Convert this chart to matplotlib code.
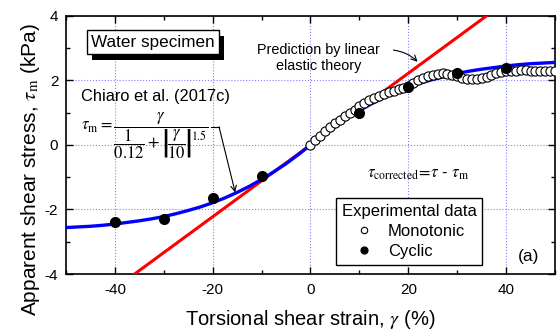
import matplotlib
matplotlib.use("Agg")
import matplotlib.pyplot as plt
from matplotlib import patheffects
from matplotlib.lines import Line2D

plt.rcParams['font.family'] = ['Liberation Sans', 'DejaVu Sans']
plt.rcParams['mathtext.fontset'] = 'stix'
plt.rcParams['axes.unicode_minus'] = False

# model curve (Chiaro et al. 2017c)
model_x = [-50, -47.5, -45, -42.5, -40, -37.5, -35, -32.5, -30, -27.5, -25, -22.5, -20,
           -17.5, -15, -12.5, -10, -7.5, -5, -2.5, 0, 2.5, 5, 7.5, 10, 12.5, 15, 17.5,
           20, 22.5, 25, 27.5, 30, 32.5, 35, 37.5, 40, 42.5, 45, 47.5, 50]
model_y = [-2.56, -2.54, -2.52, -2.49, -2.45, -2.40, -2.35, -2.29, -2.22, -2.13, -2.03,
           -1.92, -1.79, -1.64, -1.47, -1.28, -1.07, -0.83, -0.58, -0.30, 0.0, 0.30,
           0.58, 0.83, 1.07, 1.28, 1.47, 1.64, 1.79, 1.92, 2.03, 2.13, 2.22, 2.29, 2.35,
           2.40, 2.45, 2.49, 2.52, 2.54, 2.56]

# linear elastic prediction
elastic_x = [-50, 50]
elastic_y = [-5.56, 5.56]

# monotonic test
mono_x = list(range(0, 51))
mono_y = [0.0, 0.14, 0.29, 0.42, 0.55, 0.67, 0.79, 0.90, 1.00, 1.10, 1.20, 1.30, 1.38,
          1.46, 1.52, 1.58, 1.63, 1.68, 1.73, 1.78, 1.84, 1.92, 2.00, 2.08, 2.14, 2.18,
          2.21, 2.22, 2.21, 2.18, 2.14, 2.09, 2.06, 2.05, 2.05, 2.07, 2.11, 2.17, 2.23,
          2.27, 2.29, 2.30, 2.30, 2.31, 2.31, 2.30, 2.30, 2.30, 2.29, 2.29, 2.30]

# cyclic test
cyc_x = [-40, -30, -20, -10, 10, 20, 30, 40]
cyc_y = [-2.40, -2.31, -1.65, -0.96, 1.00, 1.81, 2.24, 2.38]

fig = plt.figure(figsize=(5.58, 3.31), dpi=100)
ax = fig.add_axes([0.1183, 0.1722, 0.8763, 0.7795])

ax.plot(elastic_x, elastic_y, color='#ff0000', lw=2.2, zorder=3)
ax.plot(model_x, model_y, color='#0000ff', lw=2.4, zorder=4)
mono, = ax.plot(mono_x, mono_y, 'o', mfc='white', mec='black', mew=0.8, ms=6.6, zorder=5)
cyc, = ax.plot(cyc_x, cyc_y, 'o', mfc='black', mec='black', ms=7, zorder=6)

ax.set_xlim(-50, 50)
ax.set_ylim(-4, 4)
ax.set_xticks([-40, -20, 0, 20, 40])
ax.set_xticks([-50, -30, -10, 10, 30, 50], minor=True)
ax.set_yticks([-4, -2, 0, 2, 4])
ax.set_yticks([-3, -1, 1, 3], minor=True)
ax.tick_params(which='both', direction='in', top=True, right=True, labelsize=11, width=1)
ax.tick_params(which='major', length=5)
ax.tick_params(which='minor', length=3)
ax.tick_params(axis='x', pad=6.5)
ax.tick_params(axis='y', pad=5.5)
ax.grid(True, which='major', color='#8080ff', ls=':', lw=0.8)
for s in ax.spines.values():
    s.set_linewidth(1.2)

ax.set_xlabel(r'Torsional shear strain, $\gamma$ (%)', fontsize=14.5, labelpad=8)
ax.set_ylabel(r'Apparent shear stress, $\tau_{\rm m}$ (kPa)', fontsize=15)
ax.yaxis.set_label_coords(-0.049, 0.405)

# "Water specimen" box with drop shadow
ws = ax.text(-32.2, 3.19, 'Water specimen', fontsize=12.3, ha='center', va='center', zorder=8,
             bbox=dict(boxstyle='square,pad=0.25', fc='white', ec='black', lw=1))
ws.get_bbox_patch().set_path_effects([
    patheffects.SimplePatchShadow(offset=(3.6, -4.3), shadow_rgbFace='black', alpha=1),
    patheffects.Normal()])

ax.text(1.7, 2.70, 'Prediction by linear\nelastic theory', fontsize=10.4, ha='center',
        va='center', linespacing=1.15, zorder=8)
ax.annotate('', xy=(22.3, 2.52), xytext=(16.4, 2.95),
            arrowprops=dict(arrowstyle='->', color='black', lw=0.8,
                            connectionstyle='arc3,rad=-0.2'), zorder=8)

ax.text(-46.9, 1.49, 'Chiaro et al. (2017c)', fontsize=11.8, ha='left', va='center', zorder=8)
ax.text(-46.9, 0.30,
        r'$\tau_{\rm m}=\dfrac{\gamma}{\dfrac{1}{0.12}+\left|\!\dfrac{\gamma}{10}\!\right|^{\!1.5}}$',
        fontsize=12, ha='left', va='center', zorder=8)
ax.add_line(Line2D([-20.3, -18.7], [0.56, 0.56], color='black', lw=0.8, zorder=8))
ax.annotate('', xy=(-15.4, -1.47), xytext=(-18.7, 0.56),
            arrowprops=dict(arrowstyle='->', color='black', lw=0.8, shrinkA=0, shrinkB=0),
            zorder=8)

ax.text(22.1, -0.90, r'$\tau_{\rm corrected}\!=\!\tau$ - $\tau_{\rm m}$', fontsize=12,
        ha='center', va='center', zorder=8)

leg = ax.legend([mono, cyc], ['Monotonic', 'Cyclic'], title='Experimental data',
                loc='upper left', bbox_to_anchor=(0.552, 0.295), borderaxespad=0,
                fontsize=12, title_fontsize=12, fancybox=False, edgecolor='black',
                framealpha=1, markerscale=0.7, handletextpad=0.8, handlelength=1.3,
                labelspacing=0.3, borderpad=0.35)
leg.get_frame().set_linewidth(1)
leg.set_zorder(9)

ax.text(0.945, 0.066, '(a)', transform=ax.transAxes, fontsize=12.5, ha='center',
        va='center')

fig.savefig('out.png', dpi=100)
